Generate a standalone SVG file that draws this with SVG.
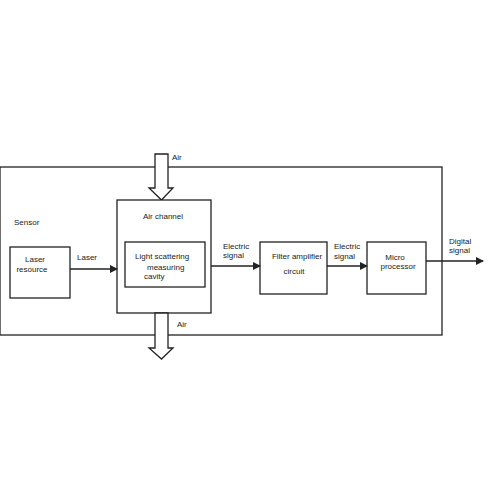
<svg xmlns="http://www.w3.org/2000/svg" width="500" height="500" viewBox="0 0 500 500">
<style>
.b{fill:#fff;stroke:#222;stroke-width:1.3}
.n{fill:none;stroke:#222;stroke-width:1.3}
text{font-family:"Liberation Sans",Arial,sans-serif;font-size:8px;fill:#222}
.c{text-anchor:middle}
.l{stroke:#222;stroke-width:1.3;fill:none}
</style>
<defs>
<marker id="ah" markerWidth="8" markerHeight="8" refX="7" refY="4" orient="auto" markerUnits="userSpaceOnUse">
<path d="M0,0 L8,4 L0,8 Z" fill="#222"/>
</marker>
</defs>
<rect width="500" height="500" fill="#fff"/>
<g id="sensor">
<rect class="n" x="0" y="167" width="442" height="168"/>
<text x="14" y="225">Sensor</text>
</g>
<g id="air-in">
<path class="b" d="M155,154 L168,154 L168,188 L173,188 L161.5,200 L149,188 L155,188 Z"/>
<text x="172" y="160">Air</text>
</g>
<g id="air-channel">
<rect class="b" x="117" y="200" width="94" height="113"/>
<text class="c" x="163" y="219">Air channel</text>
</g>
<g id="cavity">
<rect class="b" x="125" y="242" width="80" height="45"/>
<text x="135" y="259">Light scattering</text>
<text x="147" y="270">measuring</text>
<text x="144" y="279">cavity</text>
</g>
<g id="air-out">
<path class="b" d="M155,313 L168,313 L168,348 L173,348 L161.5,359 L149,348 L155,348 Z"/>
<text x="177" y="327">Air</text>
</g>
<g id="laser">
<rect class="b" x="10" y="247" width="60" height="51"/>
<text class="c" x="35" y="262">Laser</text>
<text class="c" x="32" y="272">resource</text>
</g>
<g id="filter">
<rect class="b" x="260" y="242" width="67" height="52"/>
<text class="c" x="297" y="259">Filter amplifier</text>
<text class="c" x="294" y="274">circuit</text>
</g>
<g id="micro">
<rect class="b" x="367" y="242" width="59" height="52"/>
<text class="c" x="395" y="260">Micro</text>
<text class="c" x="398" y="269">processor</text>
</g>
<g id="connectors">
<line class="l" x1="70" y1="269" x2="117" y2="269" marker-end="url(#ah)"/>
<text x="77" y="260">Laser</text>
<line class="l" x1="211" y1="266" x2="260" y2="266" marker-end="url(#ah)"/>
<text x="223" y="249">Electric</text>
<text x="223" y="258">signal</text>
<line class="l" x1="327" y1="266" x2="367" y2="266" marker-end="url(#ah)"/>
<text x="334" y="249">Electric</text>
<text x="334" y="259">signal</text>
<line class="l" x1="426" y1="261" x2="483" y2="261" marker-end="url(#ah)"/>
<text x="449" y="244">Digital</text>
<text x="449" y="253">signal</text>
</g>
</svg>
